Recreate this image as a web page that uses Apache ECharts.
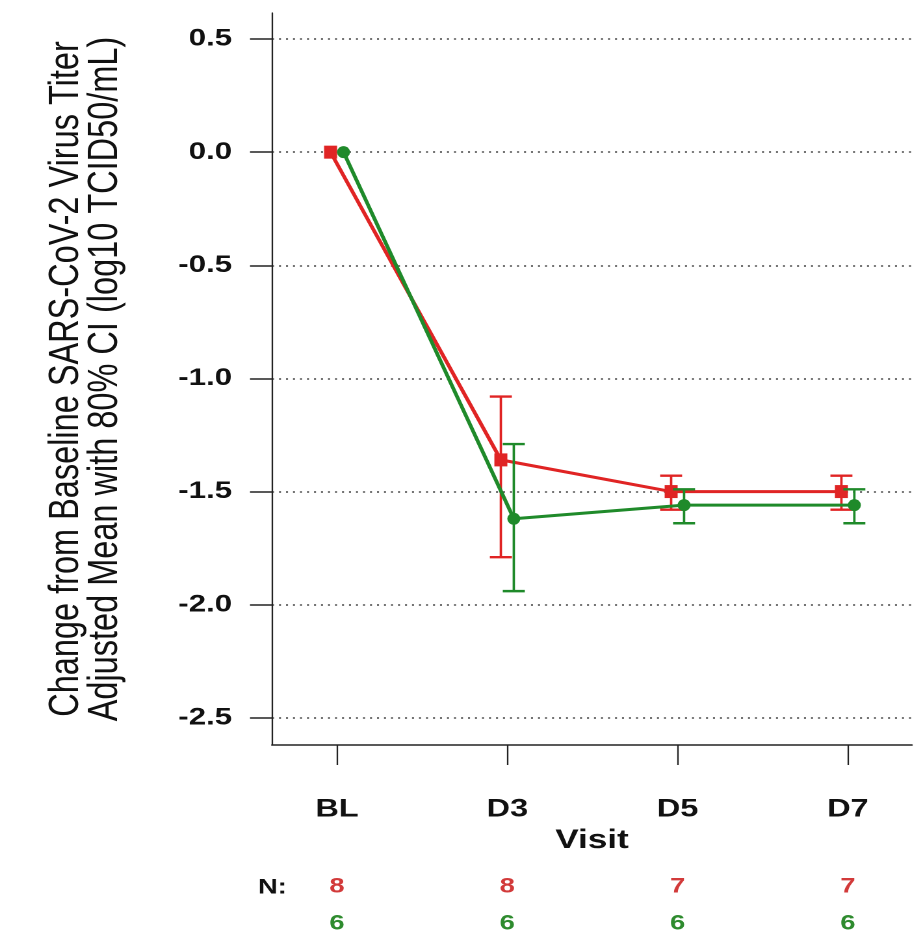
<!DOCTYPE html>
<html>
<head>
<meta charset="utf-8">
<script src="https://cdn.jsdelivr.net/npm/echarts@6/dist/echarts.min.js"></script>
<style>
    html, body { margin: 0; background: #fff; overflow: hidden; }
    /* the reference is wider than it is tall in its text: draw narrow, then stretch */
    #chart { width: 703px; height: 936px; transform: scaleX(1.3); transform-origin: 0 0; }
</style>
</head>
<body>
<div id="chart"></div>
<script>
const visits = ['BL', 'D3', 'D5', 'D7'];
const visitPos = [1, 2, 3, 4];
const yTicks = [-2.5, -2.0, -1.5, -1.0, -0.5, 0.0, 0.5];

// first group (red)
const redMean = [0, -1.36, -1.5, -1.5];
const redLow = [null, -1.79, -1.58, -1.58];
const redHigh = [null, -1.08, -1.43, -1.43];
const redN = [8, 8, 7, 7];

// second group (green)
const greenMean = [0, -1.62, -1.56, -1.56];
const greenLow = [null, -1.94, -1.64, -1.64];
const greenHigh = [null, -1.29, -1.49, -1.49];
const greenN = [6, 6, 6, 6];

const S = 1.3; // horizontal stretch
const RED = '#e02424';
const GREEN = '#1f8a2a';
const dodge = 0.038;
const fontFamily = "'Liberation Sans', Arial, sans-serif";

function points(mean, shift) {
    return visitPos.map((v, i) => [v + shift, mean[i]]);
}

function bars(low, high, shift) {
    const out = [];
    visitPos.forEach((v, i) => {
        if (low[i] !== null) out.push([v + shift, low[i], high[i]]);
    });
    return out;
}

function errorBar(color) {
    return function (params, api) {
        const lo = api.coord([api.value(0), api.value(1)]);
        const hi = api.coord([api.value(0), api.value(2)]);
        const w = 11 / S;
        const style = { stroke: color, lineWidth: 2.4 };
        return {
            type: 'group',
            children: [
                { type: 'line', shape: { x1: lo[0], y1: lo[1], x2: hi[0], y2: hi[1] }, style: { stroke: color, lineWidth: 2.4 / S } },
                { type: 'line', shape: { x1: lo[0] - w, y1: lo[1], x2: lo[0] + w, y2: lo[1] }, style: style },
                { type: 'line', shape: { x1: hi[0] - w, y1: hi[1], x2: hi[0] + w, y2: hi[1] }, style: style },
            ],
        };
    };
}

const chart = echarts.init(document.getElementById('chart'), null, { devicePixelRatio: 2 });

const option = {
    animation: false,
    textStyle: { fontFamily: fontFamily },
    grid: { left: 272 / S, right: 2 / S, top: 13, bottom: 191 },
    xAxis: [
        {
            type: 'value',
            min: 0.618,
            max: 4.376,
            axisLine: { show: true, onZero: false, lineStyle: { color: '#222', width: 1.5 } },
            axisTick: { show: true, customValues: visitPos, length: 20, lineStyle: { color: '#222', width: 1.5 / S } },
            axisLabel: {
                customValues: visitPos,
                formatter: (v) => visits[visitPos.indexOf(v)],
                fontSize: 25,
                fontWeight: 'bold',
                color: '#111',
                margin: 52,
            },
            splitLine: { show: false },
            name: 'Visit',
            nameLocation: 'middle',
            nameGap: 76,
            nameTextStyle: { fontSize: 27, fontWeight: 'bold', color: '#111' },
        },
        {
            type: 'value',
            min: 0.618,
            max: 4.376,
            position: 'bottom',
            offset: 123,
            axisLine: { show: false },
            axisTick: { show: false },
            axisLabel: {
                customValues: visitPos,
                formatter: (v) => {
                    const i = visitPos.indexOf(v);
                    return `{r|${redN[i]}}\n{g|${greenN[i]}}`;
                },
                margin: 0,
                rich: {
                    r: { color: '#d23a3a', fontSize: 21, fontWeight: 'bold', lineHeight: 37 },
                    g: { color: '#2e8b2e', fontSize: 21, fontWeight: 'bold', lineHeight: 37 },
                },
            },
            splitLine: { show: false },
        },
    ],
    yAxis: {
        type: 'value',
        min: -2.62,
        max: 0.615,
        axisLine: { show: true, lineStyle: { color: '#222', width: 1.5 / S } },
        axisTick: { show: true, customValues: yTicks, length: 22 / S, lineStyle: { color: '#222', width: 1.5 } },
        axisLabel: {
            customValues: yTicks,
            formatter: (v) => v.toFixed(1),
            fontSize: 24,
            fontWeight: 'bold',
            color: '#111',
            margin: 40 / S,
        },
        splitLine: { show: true, lineStyle: { color: '#444', width: 1.5, type: [2 / S, 5 / S] } },
        name: 'Change from Baseline SARS-CoV-2 Virus Titer\nAdjusted Mean with 80% CI (log10 TCID50/mL)',
        nameLocation: 'middle',
        nameRotate: 90,
        nameGap: 113,
        nameTextStyle: { fontSize: 32.5, lineHeight: 30, color: '#111', align: 'center' },
    },
    graphic: [
        {
            type: 'text',
            left: 258 / S,
            top: 877,
            style: { text: 'N:', fontSize: 21, fontWeight: 'bold', fill: '#111', fontFamily: fontFamily },
        },
    ],
    series: [
        {
            type: 'custom',
            renderItem: errorBar(RED),
            data: bars(redLow, redHigh, -dodge),
            encode: { x: 0, y: [1, 2] },
            z: 1,
        },
        {
            type: 'line',
            data: points(redMean, -dodge),
            symbol: 'rect',
            symbolSize: [10, 13],
            color: RED,
            lineStyle: { width: 3, color: RED },
            z: 2,
        },
        {
            type: 'custom',
            renderItem: errorBar(GREEN),
            data: bars(greenLow, greenHigh, dodge),
            encode: { x: 0, y: [1, 2] },
            z: 3,
        },
        {
            type: 'line',
            data: points(greenMean, dodge),
            symbol: 'circle',
            symbolSize: [10, 12],
            color: GREEN,
            lineStyle: { width: 3, color: GREEN },
            z: 4,
        },
    ],
};

chart.setOption(option);
</script>
</body>
</html>
